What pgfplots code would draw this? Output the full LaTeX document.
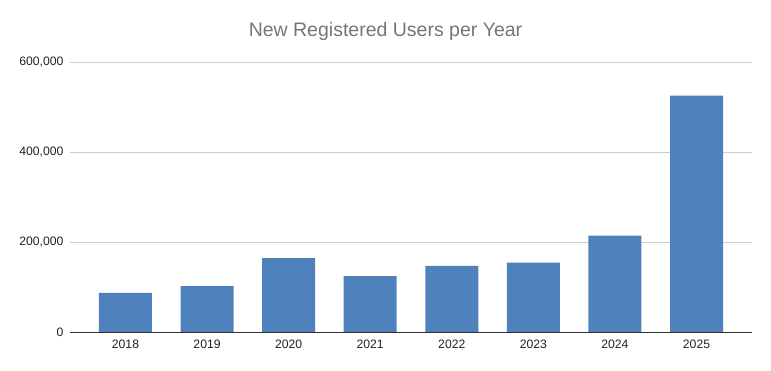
\documentclass[border=0pt]{standalone}
\usepackage{fontspec}
\setmainfont{Liberation Sans}
\usepackage{pgfplots}
\pgfplotsset{compat=1.18}
\definecolor{barblue}{HTML}{4F81BD}
\definecolor{gridgray}{HTML}{CCCCCC}
\definecolor{titlegray}{HTML}{757575}
\definecolor{ticktext}{HTML}{222222}
\begin{document}
\begin{tikzpicture}
\path[use as bounding box] (0,0) rectangle (771pt,371pt);
\node[text=titlegray, font=\fontsize{19.5}{22}\selectfont] at (385.5pt,340pt) {New Registered Users per Year};
\begin{axis}[
  at={(70pt,39pt)}, anchor=south west,
  scale only axis, width=682pt, height=270pt,
  ybar, bar width=53pt,
  xmin=-0.68, xmax=7.68,
  ymin=0, ymax=600000,
  scaled y ticks=false,
  xtick=data,
  xticklabels={2018,2019,2020,2021,2022,2023,2024,2025},
  ytick={0,200000,400000,600000},
  yticklabels={0,{200,000},{400,000},{600,000}},
  major tick length=0pt,
  ymajorgrids, grid style={gridgray, line width=0.8pt},
  axis x line*=bottom, axis y line*=left,
  y axis line style={draw=none},
  x axis line style={draw=black!80, line width=0.9pt, -},
  tick label style={text=ticktext, font=\fontsize{12.2}{14}\selectfont},
  yticklabel style={xshift=-3pt},
  xticklabel style={yshift=-4.5pt},
]
\addplot[fill=barblue, draw=none] coordinates {
  (0,87000) (1,102000) (2,164000) (3,124000)
  (4,147000) (5,154000) (6,214000) (7,525000)
};
\end{axis}
\end{tikzpicture}
\end{document}
